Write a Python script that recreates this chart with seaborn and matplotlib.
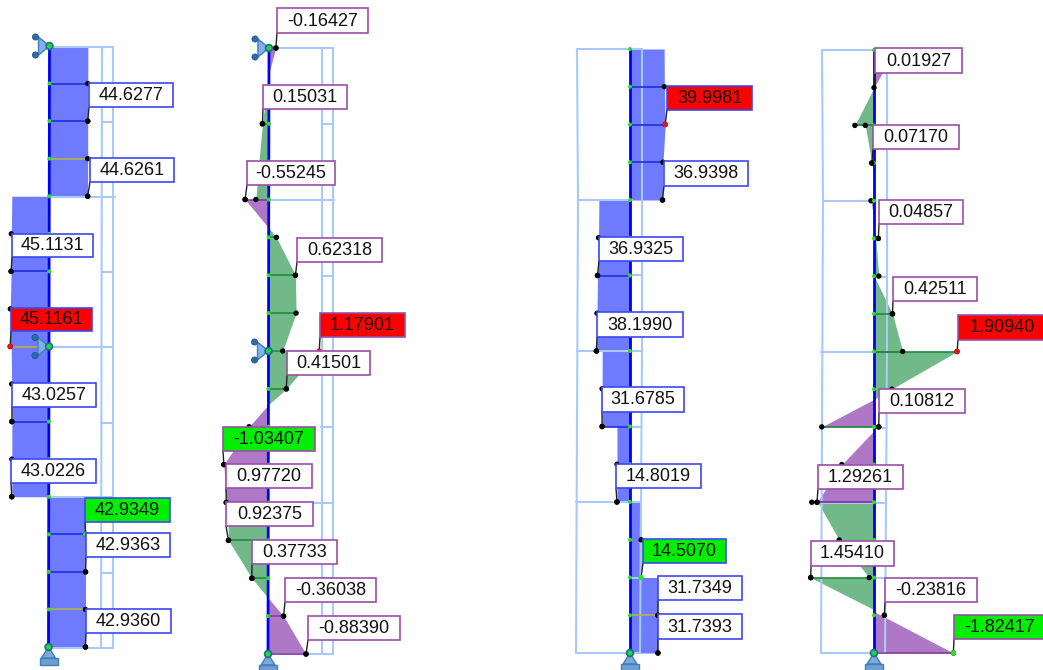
import matplotlib
matplotlib.use("Agg")
import matplotlib.pyplot as plt
from matplotlib.patches import Rectangle, Polygon, Circle
import pandas as pd
import seaborn as sns

sns.set_theme(style="white")
plt.rcParams["font.family"] = ["Liberation Sans", "DejaVu Sans"]

# ---------- diagram data: (code, stations, ordinates) ----------
P1_SEGS = [
    ("b", [0, 1, 2, 3, 4], [44.62, 44.6, 44.6277, 44.62, 44.6261]),
    ("b", [4, 5, 6, 7, 8], [-43.5, -44.0, -44.2, -45.1131, -45.1161]),
    ("b", [8, 9, 10, 11, 12], [-44.0, -43.3, -43.0257, -43.0, -43.0226]),
    ("b", [12, 13, 14, 15, 16], [42.9349, 42.9349, 42.9363, 42.93, 42.9360]),
]
P1_DOTS = [(1, 44.6, "b"), (2, 44.6277, "b"), (3, 44.62, "y"), (4, 44.6261, "w"),
           (5, -44.0, "w"), (6, -44.2, "b"), (7, -45.0, "w"), (8, -45.1161, "y"), (9, -43.3, "w"),
           (10, -43.0257, "b"), (11, -43.0, "w"), (12, -43.0226, "w"), (13, 42.9349, "b"),
           (14, 42.9363, "b"), (15, 42.93, "y"), (16, 42.9360, "w")]

P2_SEGS = [
    ("p", [0, 0.65], [0.16, 0]),
    ("g", [0.65, 1, 2, 3, 4], [0, -0.05, -0.15, -0.23, -0.30]),
    ("p", [4, 4.75], [-0.55, 0]),
    ("g", [4.75, 5, 6, 7, 8], [0, 0.18, 0.62318, 0.64, 0.33]),
    ("g", [8, 9, 9.42], [1.17901, 0.41501, 0]),
    ("p", [9.42, 10, 11, 12], [0, -0.45, -1.03407, -0.97720]),
    ("g", [12, 13, 14, 14.52], [-0.95, -0.92375, -0.37733, 0]),
    ("p", [14.52, 15, 16], [0, 0.36038, 0.88390]),
]
P2_DOTS = [(0, 0.16, "w"), (2, -0.15, "g"), (4, -0.30, "g"), (4, -0.55, "p"),
           (5, 0.18, "g"), (6, 0.62318, "g"), (7, 0.64, "g"), (8, 0.33, "g"),
           (9, 0.41501, "g"), (10, -0.45, "w"), (11, -1.03407, "p"),
           (12, -0.97720, "p"), (13, -0.92375, "g"), (14, -0.37733, "g"),
           (15, 0.36038, "p"), (16, 0.88390, "p")]

P3_SEGS = [
    ("b", [0, 1, 2, 3, 4], [38.8, 39.0, 39.9981, 37.5, 36.9398]),
    ("b", [4, 5, 6, 7, 8], [-35.3, -35.8, -36.9325, -37.5, -38.1990]),
    ("b", [8, 9, 10], [-31.6, -31.7, -31.6785]),
    ("b", [10, 11, 12], [-14.8, -14.8, -14.8019]),
    ("b", [12, 13, 14], [12.5, 12.6, 12.6]),
    ("b", [14, 15, 16], [31.73, 31.7349, 31.7393]),
]
P3_DOTS = [(1, 39.0, "b"), (2, 39.9981, "b"), (3, 37.5, "b"), (4, 36.9398, "w"), (5, -35.8, "w"),
           (6, -36.9325, "b"), (7, -37.5, "w"), (8, -38.1990, "w"), (9, -31.7, "w"),
           (10, -31.6785, "b"), (11, -14.8, "w"), (12, -14.8019, "w"),
           (13, 12.6, "w"), (15, 31.7349, "y"), (16, 31.7393, "w")]

P4_SEGS = [
    ("p", [0, 1], [0.48, 0]),
    ("g", [1, 2], [0, -0.44]),
    ("g", [2, 3, 3.37], [-0.2, -0.05, 0]),
    ("p", [4, 4.5], [-0.07, 0]),
    ("g", [5, 6], [0.04, 0.11]),
    ("g", [6, 7, 8], [0, 0.42511, 0.66]),
    ("g", [8, 9, 9.27], [1.90940, 0.40, 0]),
    ("p", [9.27, 10], [0, -1.20]),
    ("p", [10.1, 11, 12], [0, -0.74, -1.31]),
    ("g", [12, 13, 14, 14.15], [-1.29261, -0.80, -0.11, 0]),
    ("g", [14, 14.85], [-1.45410, 0]),
    ("p", [14.9, 16], [0, 1.82417]),
]
P4_DOTS = [(2, -0.44, "g"), (2, -0.2, "g"), (3, -0.05, "w"), (4, -0.07, "w"),
           (5, 0.10, "w"), (6, 0.11, "w"), (7, 0.42511, "g"), (8, 0.66, "g"), (8, 1.90940, "g"),
           (9, 0.41, "w"), (10, -1.20, "g"), (10, 0.10812, "w"), (11, -0.74, "w"),
           (12, -1.43, "p"), (12, -1.31, "p"), (13, -0.80, "w"), (14, -1.45410, "g"),
           (14, -0.11, "w"), (15, 0.23816, "w"), (16, 1.82417, "p")]

# ---------- labels ----------
P1_TEXT = ["44.6277", "44.6261", "45.1131", "45.1161", "43.0257", "43.0226", "42.9349", "42.9363", "42.9360"]
P1_KIND = ["n", "n", "n", "max", "n", "n", "min", "n", "n"]
P1_BOX = [(89, 83, 173, 107), (90, 158, 174, 182), (12, 234, 93, 257), (11, 308, 92, 331),
          (12, 383, 96, 407), (11, 459, 96, 483), (85, 498, 170, 522), (86, 533, 170, 557), (86, 609, 171, 633)]
P1_TIPS = [(2, 44.6277), (4, 44.6261), (6, -44.2), (8, -45.1161), (10, -43.0257),
           (12, -43.0226), (13, 42.9349), (14, 42.9363), (16, 42.9360)]

P2_TEXT = ["-0.16427", "0.15031", "-0.55245", "0.62318", "1.17901", "0.41501", "-1.03407",
           "0.97720", "0.92375", "0.37733", "-0.36038", "-0.88390"]
P2_KIND = ["n", "n", "n", "n", "max", "n", "min", "n", "n", "n", "n", "n"]
P2_BOX = [(277, 8, 368, 33), (263, 85, 347, 109), (247, 161, 335, 185), (297, 238, 382, 262),
          (320, 313, 405, 337), (287, 351, 370, 375), (223, 427, 315, 451), (226, 464, 312, 488),
          (226, 502, 313, 526), (252, 540, 337, 564), (285, 578, 376, 602), (308, 616, 400, 640)]
P2_TIPS = [(0, 0.16), (2, -0.15), (4, -0.55), (6, 0.62318), (8, 1.17901), (9, 0.41501),
           (11, -1.03407), (12, -0.97720), (13, -0.92375), (14, -0.37733), (15, 0.36038), (16, 0.88390)]
P2_TIP_DOT = ["k", "k", "k", "k", "k", "k", "k", "k", "k", "k", "k", "k"]

P3_TEXT = ["39.9981", "36.9398", "36.9325", "38.1990", "31.6785", "14.8019", "14.5070", "31.7349", "31.7393"]
P3_KIND = ["max", "n", "n", "n", "n", "n", "min", "n", "n"]
P3_BOX = [(667, 86, 752, 110), (664, 161, 748, 186), (599, 237, 683, 261), (597, 312, 683, 337),
          (602, 387, 684, 412), (616, 464, 701, 488), (643, 539, 726, 563), (658, 576, 742, 600),
          (658, 614, 742, 639)]
P3_TIPS = [(2, 39.9981), (4, 36.9398), (6, -36.9325), (8, -38.1990), (10, -31.6785), (12, -14.8019),
           (14, 12.6), (15, 31.7349), (16, 31.7393)]

P4_TEXT = ["0.01927", "0.07170", "0.04857", "0.42511", "1.90940", "0.10812", "1.29261",
           "1.45410", "-0.23816", "-1.82417"]
P4_KIND = ["n", "n", "n", "n", "max", "n", "n", "n", "n", "min"]
P4_BOX = [(875, 48, 962, 73), (873, 125, 959, 149), (879, 200, 963, 224), (893, 277, 977, 301),
          (958, 315, 1046, 340), (879, 389, 965, 413), (818, 465, 903, 489), (811, 541, 894, 566),
          (885, 578, 977, 602), (954, 615, 1046, 639)]
P4_TIPS = [(1, 0.0), (3, -0.05), (5, 0.10), (7, 0.42511), (8, 1.90940), (10, 0.10812), (12, -1.31),
           (14, -1.45410), (15, 0.23816), (16, 1.82417)]

# ---------- layout: undeformed frames and panel placing (pixels) ----------
FRAME_1 = [((49, 47), (113, 47)), ((102, 47), (101, 648)), ((113, 47), (113, 648)), ((50, 197), (115, 197)),
           ((102, 122), (113, 122)), ((102, 272), (113, 272)), ((49, 347), (113, 347)), ((101, 423), (112, 423)),
           ((48, 497), (113, 497)), ((101, 573), (113, 573)), ((48, 648), (113, 648))]
FRAME_2 = [((269, 48), (333, 48)), ((322, 48), (322, 654)), ((333, 48), (333, 654)), ((269, 200), (334, 200)),
           ((322, 124), (333, 124)), ((322, 276), (333, 276)), ((269, 351), (333, 351)), ((321, 427), (332, 427)),
           ((268, 503), (333, 503)), ((321, 578), (332, 578)), ((268, 654), (333, 654))]
FRAME_3 = [((577, 49), (642, 49)), ((577, 49), (578, 200)), ((578, 200), (576, 653)), ((642, 49), (642, 351)),
           ((642, 351), (640, 653)), ((578, 200), (632, 200)), ((630, 275), (642, 275)), ((577, 351), (642, 351)),
           ((630, 427), (640, 427)), ((576, 502), (640, 502)), ((630, 578), (640, 578)), ((577, 653), (640, 653))]
FRAME_4 = [((822, 50), (887, 50)), ((822, 50), (823, 201)), ((823, 201), (821, 653)), ((887, 50), (887, 352)),
           ((887, 352), (885, 653)), ((823, 201), (876, 201)), ((874, 277), (887, 277)), ((821, 352), (887, 352)),
           ((874, 428), (885, 428)), ((820, 503), (885, 503)), ((874, 578), (885, 578)), ((821, 653), (885, 653))]

PANELS = [
    dict(segs=P1_SEGS, dots=P1_DOTS, text=P1_TEXT, kind=P1_KIND, box=P1_BOX, tips=P1_TIPS, frame=FRAME_1,
         top=46, bottom=647, x_top=49.5, x_bot=48.5, scale=0.86, edge="#3b48f2", pins=[0, 8], tip_min="#22e622"),
    dict(segs=P2_SEGS, dots=P2_DOTS, text=P2_TEXT, kind=P2_KIND, box=P2_BOX, tips=P2_TIPS, frame=FRAME_2,
         top=48, bottom=654, x_top=269, x_bot=268, scale=43.0, edge="#9b4fa8", pins=[0, 8], tip_min="black"),
    dict(segs=P3_SEGS, dots=P3_DOTS, text=P3_TEXT, kind=P3_KIND, box=P3_BOX, tips=P3_TIPS, frame=FRAME_3,
         top=49, bottom=653, x_top=630, x_bot=630, scale=0.88, edge="#3b48f2", pins=[], tip_min="#22e622"),
    dict(segs=P4_SEGS, dots=P4_DOTS, text=P4_TEXT, kind=P4_KIND, box=P4_BOX, tips=P4_TIPS, frame=FRAME_4,
         top=50, bottom=653, x_top=874, x_bot=874, scale=43.5, edge="#9b4fa8", pins=[], tip_min="#22e622"),
]

FILL = {"b": "#6e7bff", "g": "#72b98a", "p": "#ae78c6"}
RULE = {"b": "#1f2ce0", "g": "#1f8a3c", "p": "#8a3fa0", "y": "#b5b04a"}
KIND_FACE = {"n": "white", "max": "#ff0000", "min": "#00ee00"}
FRAME_C = "#a9c9fb"
N_STATIONS = 17

fig = plt.figure(figsize=(10.43, 6.70), dpi=100)
ax = fig.add_axes([0, 0, 1, 1])


def seg_line(xs, ys, color, lw, z):
    df = pd.DataFrame({"x": xs, "y": ys})
    sns.lineplot(data=df, x="x", y="y", ax=ax, color=color, lw=lw, sort=False, estimator=None,
                 legend=False, zorder=z)


def dot(x, y, color, r=2.7, z=5):
    ax.add_patch(Circle((x, y), r, facecolor=color, edgecolor="none", zorder=z))


def support_side(x, y):
    ax.add_patch(Polygon([(x - 11, y - 9), (x - 11, y + 9), (x, y)], facecolor="#7fb2ea",
                         edgecolor="#3f7fc0", lw=1, zorder=6))
    for dy in (-9, 9):
        ax.add_patch(Circle((x - 14, y + dy), 3.1, facecolor="#2b6cab", edgecolor="#1c4f84", lw=0.5, zorder=6))
    ax.add_patch(Circle((x, y), 3.4, facecolor="#1fd64a", edgecolor="#1f6f80", lw=1.2, zorder=7))


def support_bottom(x, y):
    ax.add_patch(Polygon([(x, y), (x - 7, y + 11), (x + 7, y + 11)], facecolor="#7fa9d6",
                         edgecolor="#3f7fc0", lw=1, zorder=6))
    ax.add_patch(Rectangle((x - 9, y + 11), 18, 6.5, facecolor="#6f9fd0", edgecolor="#3f7fc0", lw=1, zorder=6))
    ax.add_patch(Circle((x, y), 3.4, facecolor="#1fd64a", edgecolor="#1f6f80", lw=1.2, zorder=7))


for p in PANELS:
    step = (p["bottom"] - p["top"]) / (N_STATIONS - 1)
    ypx = lambda s: p["top"] + s * step
    base = lambda s: p["x_top"] + (p["x_bot"] - p["x_top"]) * s / (N_STATIONS - 1)
    xpx = lambda s, v: base(s) + v * p["scale"]

    for (x0, y0), (x1, y1) in p["frame"]:
        seg_line([x0, x1], [y0, y1], FRAME_C, 1.5, 2.5)

    for code, st, val in p["segs"]:
        ys = [ypx(s) for s in st]
        ax.fill_betweenx(ys, [base(s) for s in st], [xpx(s, v) for s, v in zip(st, val)],
                         color=FILL[code], lw=0, zorder=2)

    for s, v, c in p["dots"]:
        if c != "w":
            seg_line([base(s), xpx(s, v)], [ypx(s), ypx(s)], RULE[c], 1.2, 3)
        dot(xpx(s, v), ypx(s), "black")

    seg_line([base(0), base(16)], [ypx(0), ypx(16)], "#0000f5", 2.0, 4)
    for s in range(N_STATIONS):
        dot(base(s), ypx(s), "#22e622", r=2.0, z=5)

    for s in p["pins"]:
        support_side(base(s), ypx(s))
    support_bottom(base(16), ypx(16))

    for t, k, b, (s, v) in zip(p["text"], p["kind"], p["box"], p["tips"]):
        x0, y0, x1, y1 = b
        tx, ty = xpx(s, v), ypx(s)
        seg_line([x0, tx], [y1, ty], "#222222", 1.0, 7)
        tip = {"max": "#ee1111", "min": p["tip_min"], "n": "black"}[k]
        dot(tx, ty, tip, z=7.5)
        ax.add_patch(Rectangle((x0, y0), x1 - x0, y1 - y0, facecolor=KIND_FACE[k], edgecolor=p["edge"],
                               lw=1.2, zorder=8))
        ax.text((x0 + x1) / 2, (y0 + y1) / 2 + 0.5, t, ha="center", va="center", fontsize=13,
                color="#111111", zorder=9)

ax.set_xlim(0, 1043)
ax.set_ylim(670, 0)
ax.set_xlabel("")
ax.set_ylabel("")
ax.axis("off")
fig.savefig("out.png", dpi=100, facecolor="white")
